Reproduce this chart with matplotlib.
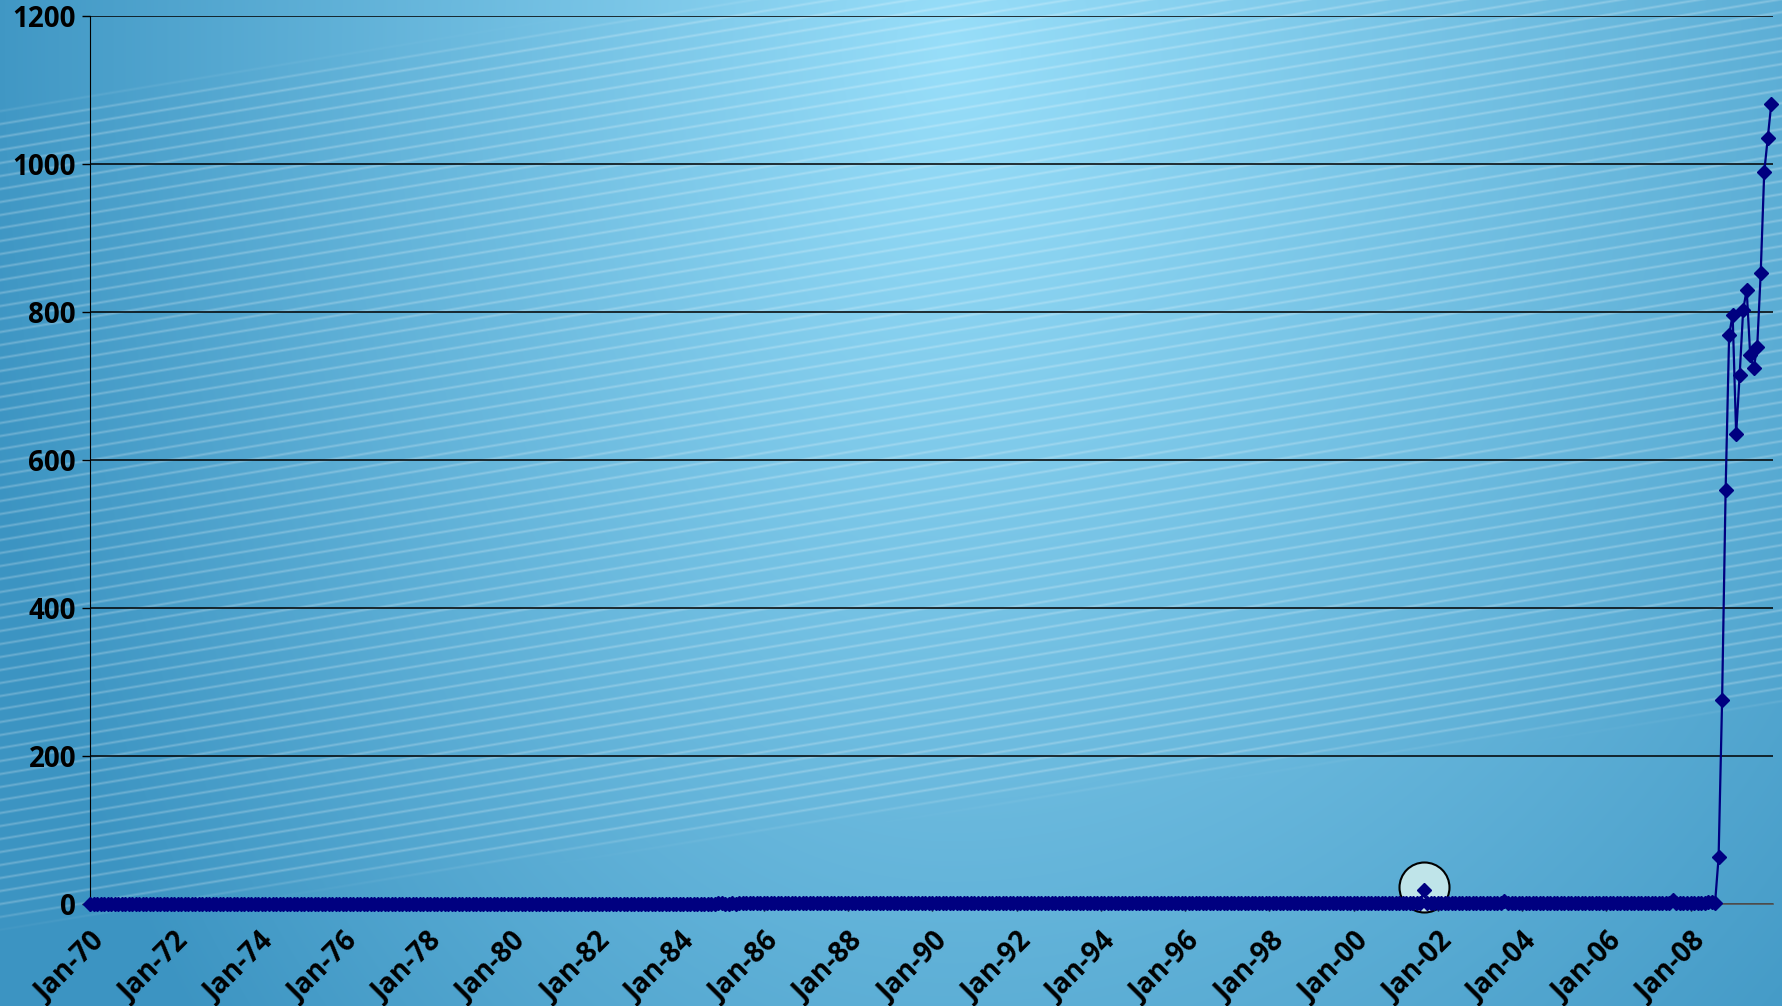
import numpy as np
import matplotlib
matplotlib.use("Agg")
import matplotlib.pyplot as plt

# === Данные: избыточные резервы, помесячно, Jan-1970 .. Dec-2009 ===
res_1970s = [
    0.19, 0.17, 0.14, 0.20, 0.16, 0.18, 0.16, 0.19, 0.20, 0.15, 0.17, 0.26,
    0.20, 0.18, 0.23, 0.17, 0.18, 0.19, 0.15, 0.18, 0.21, 0.16, 0.18, 0.27,
    0.19, 0.16, 0.22, 0.18, 0.17, 0.20, 0.19, 0.16, 0.24, 0.15, 0.19, 0.29,
    0.20, 0.17, 0.21, 0.24, 0.18, 0.22, 0.19, 0.20, 0.18, 0.21, 0.23, 0.29,
    0.25, 0.20, 0.23, 0.19, 0.21, 0.26, 0.22, 0.20, 0.24, 0.21, 0.23, 0.33,
    0.29, 0.24, 0.26, 0.21, 0.25, 0.29, 0.24, 0.23, 0.27, 0.24, 0.26, 0.38,
    0.32, 0.25, 0.28, 0.26, 0.24, 0.29, 0.26, 0.25, 0.28, 0.24, 0.27, 0.40,
    0.30, 0.24, 0.26, 0.28, 0.23, 0.31, 0.25, 0.27, 0.29, 0.24, 0.28, 0.42,
    0.31, 0.26, 0.27, 0.29, 0.25, 0.33, 0.27, 0.26, 0.30, 0.25, 0.29, 0.44,
    0.33, 0.27, 0.30, 0.28, 0.26, 0.34, 0.29, 0.27, 0.33, 0.29, 0.31, 0.48,
]
res_1980s = [
    0.42, 0.33, 0.36, 0.40, 0.38, 0.45, 0.37, 0.40, 0.39, 0.35, 0.41, 0.55,
    0.46, 0.36, 0.39, 0.42, 0.35, 0.44, 0.38, 0.36, 0.41, 0.37, 0.40, 0.52,
    0.48, 0.39, 0.43, 0.45, 0.41, 0.47, 0.42, 0.44, 0.46, 0.43, 0.47, 0.56,
    0.50, 0.42, 0.45, 0.48, 0.43, 0.51, 0.46, 0.44, 0.49, 0.45, 0.48, 0.62,
    0.55, 0.47, 0.51, 0.56, 0.49, 0.58, 0.52, 0.60, 0.57, 0.53, 0.62, 0.79,
    0.70, 0.58, 0.64, 0.71, 0.66, 0.75, 0.69, 0.72, 0.77, 0.68, 0.80, 1.04,
    1.08, 0.82, 0.90, 0.95, 0.88, 1.01, 0.97, 1.05, 1.10, 0.98, 1.12, 1.35,
    1.32, 0.96, 1.02, 1.21, 0.94, 1.05, 0.99, 1.18, 1.07, 1.24, 1.06, 1.48,
    1.30, 0.99, 1.05, 1.12, 1.01, 1.09, 1.16, 1.02, 1.11, 1.20, 1.08, 1.42,
    1.25, 0.97, 1.03, 1.10, 0.95, 1.08, 1.14, 0.99, 1.06, 1.18, 1.04, 1.50,
]
res_1990s = [
    1.28, 1.00, 1.09, 1.15, 1.02, 1.12, 1.19, 1.05, 1.14, 1.21, 1.10, 1.62,
    1.45, 1.12, 1.20, 1.27, 1.16, 1.25, 1.32, 1.18, 1.26, 1.34, 1.22, 1.75,
    1.51, 1.18, 1.26, 1.33, 1.22, 1.30, 1.38, 1.24, 1.31, 1.40, 1.28, 1.82,
    1.48, 1.15, 1.23, 1.30, 1.19, 1.28, 1.35, 1.21, 1.29, 1.37, 1.25, 1.79,
    1.44, 1.10, 1.19, 1.26, 1.14, 1.23, 1.31, 1.17, 1.25, 1.33, 1.20, 1.72,
    1.40, 1.06, 1.15, 1.22, 1.10, 1.19, 1.27, 1.13, 1.21, 1.29, 1.16, 1.65,
    1.37, 1.04, 1.12, 1.19, 1.08, 1.16, 1.24, 1.10, 1.18, 1.26, 1.13, 1.60,
    1.35, 1.02, 1.10, 1.17, 1.06, 1.14, 1.22, 1.08, 1.16, 1.24, 1.11, 1.58,
    1.38, 1.05, 1.13, 1.20, 1.09, 1.17, 1.25, 1.11, 1.19, 1.27, 1.14, 1.62,
    1.41, 1.08, 1.16, 1.23, 1.12, 1.20, 1.28, 1.14, 1.22, 1.30, 1.17, 1.85,
]
res_2000s = [
    1.60, 1.10, 1.18, 1.25, 1.14, 1.22, 1.30, 1.16, 1.24, 1.32, 1.19, 1.55,
    1.42, 1.12, 1.20, 1.27, 1.16, 1.24, 1.32, 1.18, 19.0, 1.60, 1.35, 1.70,
    1.55, 1.22, 1.30, 1.37, 1.26, 1.34, 1.42, 1.28, 1.36, 1.44, 1.31, 1.75,
    1.60, 1.28, 1.36, 1.43, 1.32, 1.40, 1.48, 4.60, 1.50, 1.52, 1.38, 1.80,
    1.70, 1.35, 1.43, 1.50, 1.39, 1.47, 1.55, 1.41, 1.49, 1.57, 1.44, 1.85,
    1.75, 1.40, 1.48, 1.55, 1.44, 1.52, 1.60, 1.46, 1.54, 1.62, 1.49, 1.90,
    1.80, 1.45, 1.53, 1.60, 1.49, 1.57, 1.65, 1.51, 1.59, 1.67, 1.54, 1.95,
    1.85, 1.50, 1.58, 1.65, 1.54, 1.62, 1.70, 5.20, 1.80, 1.72, 1.59, 2.00,
    1.90, 1.70, 2.00, 1.85, 1.80, 2.10, 2.15, 1.90, 63.0, 276.0, 559.0, 769.0,
    796.0, 635.0, 715.0, 803.0, 830.0, 742.0, 724.0, 753.0, 853.0, 989.0, 1035.0, 1081.0,
]
values = res_1970s + res_1980s + res_1990s + res_2000s

tick_years = list(range(70, 110, 2))
tick_labels = [f"Jan-{y % 100:02d}" for y in tick_years]

highlight_month = 380   # Sep-01
highlight_value = 23

FONT = ["Open Sans", "DejaVu Sans"]

# === Фон: градиент + диагональные полосы ===
W, H = 1782, 1006
yy, xx = np.mgrid[0:H, 0:W].astype(float)
rx = np.where(xx < 950, 1000.0, 1300.0)
d = np.sqrt(((xx - 950) / rx) ** 2 + ((yy - 50) / 1500) ** 2)
d = np.clip(d, 0, 1)
inner = np.array([152, 222, 249]) / 255
outer = np.array([60, 148, 194]) / 255
img = inner[None, None, :] * (1 - d[..., None]) + outer[None, None, :] * d[..., None]

phase = ((yy + 0.165 * xx) / 13.0) % 1.0
stripe = np.clip(1 - np.abs(phase - 0.5) / 0.16, 0, 1)
y_up = 100 - 0.147 * xx
y_lo = 933 - 0.125 * xx
band = np.clip((yy - y_up) / 25, 0, 1) * np.clip((y_lo - yy) / 25, 0, 1)
a = 0.24 * stripe * band
img = img * (1 - a[..., None]) + a[..., None] * 1.0

fig = plt.figure(figsize=(W / 100, H / 100), dpi=100)
bg = fig.add_axes([0, 0, 1, 1], zorder=-10)
bg.imshow(img, extent=[0, W, H, 0], aspect="auto", interpolation="bilinear")
bg.axis("off")

# === Основной график ===
ax = fig.add_axes([90 / W, 102 / H, (1773 - 90) / W, (904 - 16) / H])
ax.patch.set_alpha(0)

x = np.arange(len(values))
ax.plot([highlight_month], [highlight_value], "o", ms=36, mfc="#bfe4e9",
        mec="black", mew=1.5, zorder=2, clip_on=False)
ax.plot(x, values, color="#000080", lw=1.6, marker="D", ms=7.5,
        mfc="#000080", mec="#000080", zorder=3, clip_on=False)

ax.set_xlim(0, 479.5)
ax.set_ylim(0, 1200)
ax.set_yticks(range(0, 1201, 200))
ax.yaxis.grid(True, color="black", lw=1.1)
ax.set_axisbelow(True)
ax.set_xticks([(y - 70) * 12 for y in tick_years])
ax.set_xticklabels(tick_labels, rotation=45, ha="right", va="top",
                   rotation_mode="anchor")

for lab in ax.get_xticklabels() + ax.get_yticklabels():
    lab.set_fontfamily(FONT)
    lab.set_fontweight("bold")
    lab.set_fontsize(20)

ax.tick_params(axis="y", length=6, width=1, pad=4, colors="black")
ax.tick_params(axis="x", length=5, width=1, pad=12, colors="black")
ax.spines["top"].set_visible(False)
ax.spines["right"].set_visible(False)
ax.spines["left"].set_color("black")
ax.spines["bottom"].set_color("#555555")
ax.spines["bottom"].set_linewidth(1.2)

fig.savefig("out.png", dpi=100)
